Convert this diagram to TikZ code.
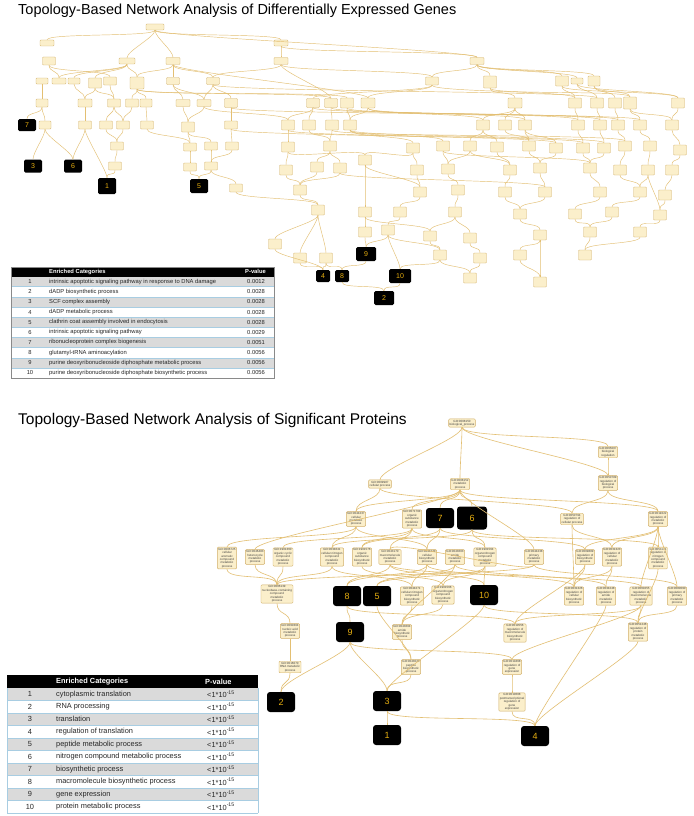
\documentclass[tikz,border=0pt]{standalone}
\usepackage{fontspec}
\setmainfont{Liberation Sans}
\definecolor{edgec}{HTML}{E3BF72}
\definecolor{nfill}{HTML}{FBEFCB}
\definecolor{ndraw}{HTML}{D2B06A}
\definecolor{gold}{HTML}{E6AE10}
\definecolor{rowgray}{HTML}{DADADA}
\definecolor{sepblue}{HTML}{A8CDE2}
\definecolor{tabborder}{HTML}{8A8A8A}
\begin{document}
\begin{tikzpicture}[x=1pt,y=-1pt,
  tn/.style={draw=ndraw,fill=nfill,line width=0.35pt,rounded corners=0.8pt,inner sep=0pt},
  bn/.style={draw=ndraw,fill=nfill,line width=0.45pt,rounded corners=1pt,inner sep=1pt,align=center,
     font=\fontsize{3}{3.4}\selectfont,text=black!75},
  ed/.style={draw=edgec,line width=0.45pt},
  edb/.style={draw=edgec,line width=0.6pt},
  toplab/.style={fill=black,rounded corners=1.5pt,inner sep=0pt,text=gold,font=\fontsize{7}{7}\selectfont},
  botlab/.style={fill=black,rounded corners=3pt,inner sep=0pt,minimum width=28pt,minimum height=20pt,text=gold,font=\fontsize{9}{9}\selectfont},
  ttl/.style={anchor=base west,inner sep=0pt},
  tcell/.style={anchor=west,inner sep=0pt,font=\fontsize{5.8}{6}\selectfont,text=black!85},
  bcell/.style={anchor=west,inner sep=0pt,font=\fontsize{7.4}{8}\selectfont,text=black!85}
]
\fill[white] (0,0) rectangle (693,816);
\useasboundingbox (0,0) rectangle (693,816);

% ---------------- Titles ----------------
\node[ttl,font=\fontsize{14.5}{17}\selectfont] (title1) at (18,14.5) {Topology-Based Network Analysis of Differentially Expressed Genes};
\node[ttl,font=\fontsize{15.5}{18}\selectfont] (title2) at (18,424) {Topology-Based Network Analysis of Significant Proteins};

% ---------------- Top graph edges & nodes ----------------
\foreach \n/\x/\y/\w/\h in {
1/155/27/18/6, 2/47/43/14/6, 3/281/43/14/6, 4/49/61/13/8, 5/127/61/16/6, 6/173/61/14/7, 7/281/61/14/7, 8/477/61/14/7,
9/42/81/12/6, 10/59/81/14/6, 11/74/81/12/6, 12/95/83/13/10, 13/110/81/13/8, 14/137/83/14/12, 15/173/81/13/7, 16/213/81/13/7, 17/432/81/13/8, 18/490/82/13/12, 19/562/81/13/10, 20/577/81/12/6, 21/594/81/12/10,
22/42/103/12/8, 23/85/103/14/8, 24/114/103/13/8, 25/132/103/13/8, 26/146/103/12/8, 27/183/103/14/7, 28/204/103/14/7, 29/231/103/13/9, 30/313/103/13/9, 31/331/103/13/9, 32/347/103/13/10, 33/368/103/14/10, 34/515/103/14/10, 35/575/103/13/10, 36/597/103/13/10, 37/615/103/13/10, 38/630/103/13/12, 39/678/103/13/10,
40/45/125/12/8, 41/85/125/13/8, 42/106/125/13/8, 43/123/125/13/8, 44/147/125/13/8, 45/188/127/13/10, 46/231/125/13/8, 47/288/125/13/10, 48/309/125/13/10, 49/332/125/13/10, 50/350/125/13/10, 51/483/125/13/10, 52/505/125/13/10, 53/525/125/13/10, 54/578/125/13/10, 55/600/125/13/10, 56/618/125/13/10, 57/640/125/13/10, 58/672/125/13/10,
59/117/146/13/8, 60/190/147/13/8, 61/211/146/13/8, 62/232/146/13/8, 63/288/147/13/10, 64/330/146/13/10, 65/413/148/13/10, 66/443/146/13/10, 67/470/146/13/10, 68/497/147/13/10, 69/529/146/13/10, 70/556/148/13/10, 71/583/148/13/10, 72/604/148/13/10, 73/625/146/13/10, 74/650/146/13/10, 75/680/150/13/10,
76/115/166/13/8, 77/190/167/13/8, 78/211/166/13/8, 79/286/170/13/10, 80/317/167/13/10, 81/340/168/13/10, 82/365/160/13/10, 83/417/170/13/10, 84/448/169/13/10, 85/510/170/13/10, 86/540/168/13/10, 87/590/168/13/10, 88/620/170/13/10, 89/648/170/13/10, 90/672/170/13/10,
91/236/188/13/8, 92/300/190/13/10, 93/420/192/13/10, 94/458/190/13/10, 95/505/192/13/10, 96/545/192/13/10, 97/600/192/13/10, 98/640/192/13/10, 99/665/195/13/10,
100/318/210/13/10, 101/365/212/13/10, 102/400/212/13/10, 103/455/212/13/10, 104/520/214/13/10, 105/575/214/13/10, 106/612/212/13/10, 107/660/215/13/10,
108/275/244/13/10, 109/365/232/13/10, 110/388/230/13/10, 111/430/236/13/10, 112/470/238/13/10, 113/540/235/13/10, 114/590/232/13/10, 115/640/232/13/10,
116/300/258/13/10, 117/326/258/13/10, 118/440/255/13/10, 119/480/258/13/10, 120/520/255/13/10, 121/585/255/13/10,
122/470/278/13/10, 123/540/282/13/10}
  \node[tn,minimum width=\w,minimum height=\h] (t\n) at (\x,\y) {};

\foreach \n/\x/\y/\w/\h in {7/27/125/18/12, 3/33/166/18/13, 6/73/166/18/13, 1/107/186/18/16, 5/199/186/18/14,
  9/366/254/20/14, 4/323/276/14/12, 8/342/276/14/12, 10/400/276/22/14, 2/384/298/20/14}
  \node[toplab,minimum width=\w,minimum height=\h] (tL\n) at (\x,\y) {\n};

\foreach \a/\b in {1/2, 1/5, 1/6, 1/3, 1/8, 3/7, 4/10, 4/13, 5/10, 5/12, 5/14, 5/11, 6/15, 6/16, 6/14, 7/16, 3/8, 8/17, 8/18, 8/19, 8/20, 8/21, 7/17,
9/22, 12/23, 13/24, 12/24, 14/25, 14/26, 15/27, 15/28, 16/28, 16/29, 14/31, 14/32, 17/33, 17/30, 7/31, 18/34, 19/35, 20/36, 21/37, 21/38, 19/39, 20/39, 18/38, 17/35, 16/36, 6/33, 11/23,
22/40, 23/41, 24/42, 24/43, 25/43, 26/44, 27/45, 28/45, 29/46, 30/47, 30/48, 31/49, 32/50, 33/50, 33/51, 34/51, 34/52, 34/53, 35/54, 36/55, 37/56, 38/57, 39/58, 38/58, 31/54, 32/55, 29/57, 30/56, 28/47, 33/53,
42/59, 43/59, 44/60, 45/60, 45/61, 46/62, 47/63, 48/64, 49/64, 50/65, 50/66, 51/67, 51/68, 52/69, 53/69, 53/70, 54/71, 55/72, 56/73, 57/74, 58/75, 47/71, 49/73, 50/72, 46/70,
59/76, 60/77, 61/78, 62/78, 63/79, 64/80, 64/81, 65/82, 65/83, 66/84, 67/84, 68/85, 69/86, 70/86, 71/87, 72/87, 73/88, 74/89, 75/90, 63/82, 67/85, 66/87,
78/91, 79/92, 80/92, 81/92, 83/93, 84/94, 85/95, 86/96, 87/97, 88/98, 89/98, 90/99, 82/93, 81/96,
92/100, 82/101, 93/102, 94/103, 95/104, 96/104, 97/105, 98/106, 99/107, 91/100, 89/107,
100/108, 101/109, 102/110, 103/111, 103/112, 104/113, 105/114, 106/114, 107/115, 101/111, 100/116, 100/117,
110/118, 111/118, 112/119, 113/120, 114/121, 115/121, 119/122, 120/123, 118/122, 113/123,
22/L7, 40/L3, 41/L6, 40/L6, 76/L1, 41/L1, 77/L5, 78/L5, 109/L9, 110/L9, 116/L4, 117/L4, 117/L8, L9/L8, 110/L10, 118/L10, L10/L2, L8/L2, 108/L4}
  \draw[ed] (t\a.south) .. controls +(0,7) and +(0,-7) .. (t\b.north);

% ---------------- Top table ----------------
\fill[black] (11,267) rectangle (274,276.5);
\foreach \i in {1,3,5,7,9}
  \fill[rowgray] (11,{276.5+(\i-1)*10.15}) rectangle (274,{276.5+\i*10.15});
\foreach \i in {1,...,9}
  \draw[sepblue,line width=0.4pt] (11,{276.5+\i*10.15}) -- (274,{276.5+\i*10.15});
\draw[tabborder,line width=0.6pt] (11,267) rectangle (274,378);
\node[tcell,text=white,font=\fontsize{5.8}{6}\selectfont\bfseries] (th1) at (49,271.8) {Enriched Categories};
\node[tcell,text=white,font=\fontsize{5.8}{6}\selectfont\bfseries] (th2) at (245,271.8) {P-value};
\foreach \i/\c/\p in {
 1/intrinsic apoptotic signaling pathway in response to DNA damage/0.0012,
 2/dADP biosynthetic process/0.0028,
 3/SCF complex assembly/0.0028,
 4/dADP metabolic process/0.0028,
 5/clathrin coat assembly involved in endocytosis/0.0028,
 6/intrinsic apoptotic signaling pathway/0.0029,
 7/ribonucleoprotein complex biogenesis/0.0051,
 8/glutamyl-tRNA aminoacylation/0.0056,
 9/purine deoxyribonucleoside diphosphate metabolic process/0.0056,
 10/purine deoxyribonucleoside diphosphate biosynthetic process/0.0056}{
  \pgfmathsetmacro\yc{276.5+(\i-0.5)*10.15}
  \node[tcell,anchor=center] (tn\i) at (30,\yc) {\i};
  \node[tcell] (tc\i) at (49,\yc) {\c};
  \node[tcell] (tp\i) at (247,\yc) {\p};
}

% ---------------- Bottom table ----------------
\fill[black] (7,675) rectangle (258,688);
\foreach \i in {1,3,5,7,9}
  \fill[rowgray] (7,{688+(\i-1)*12.5}) rectangle (258,{688+\i*12.5});
\foreach \i in {1,...,10}
  \draw[sepblue,line width=0.6pt] (7,{688+\i*12.5}) -- (258,{688+\i*12.5});
\draw[sepblue,line width=0.6pt] (7,688) -- (7,813) (258,688) -- (258,813);
\node[bcell,text=white,font=\fontsize{7.4}{8}\selectfont\bfseries] (bh1) at (56,681.5) {Enriched Categories};
\node[bcell,text=white,font=\fontsize{7.4}{8}\selectfont\bfseries] (bh2) at (205,681.5) {P-value};
\foreach \i/\c in {1/cytoplasmic translation, 2/RNA processing, 3/translation, 4/regulation of translation,
 5/peptide metabolic process, 6/nitrogen compound metabolic process, 7/biosynthetic process,
 8/macromolecule biosynthetic process, 9/gene expression, 10/protein metabolic process}{
  \pgfmathsetmacro\yc{688+(\i-0.5)*12.5}
  \node[bcell,anchor=center] (bnum\i) at (30,\yc) {\i};
  \node[bcell] (bc\i) at (56,\yc) {\c};
  \node[bcell] (bp\i) at (207,\yc) {{<}1*10\textsuperscript{-15}};
}

% ---------------- Bottom graph ----------------
\node[bn] (bp) at (462,423) {GO:0008150\\biological\_process};
\node[bn] (cp) at (380,484) {GO:0009987\\cellular process};
\node[bn] (mp) at (460,484) {GO:0008152\\metabolic\\process};
\node[bn] (br) at (608,452) {GO:0065007\\biological\\regulation};
\node[bn] (rbp) at (608,483) {GO:0050789\\regulation of\\biological\\process};
\node[bn] (cmp) at (356,519) {GO:0044237\\cellular\\metabolic\\process};
\node[bn] (osm) at (412,519) {GO:0071704\\organic\\substance\\metabolic\\process};
\node[botlab] (L7) at (440,518) {7};
\node[botlab,minimum width=30pt,minimum height=23pt] (L6) at (472,518) {6};
\node[bn] (rcp) at (572,519) {GO:0050794\\regulation of\\cellular process};
\node[bn] (rmp) at (658,519) {GO:0019222\\regulation of\\metabolic\\process};
\node[bn] (cac) at (227,558) {GO:0006725\\cellular\\aromatic\\compound\\metabolic\\process};
\node[bn] (het) at (255,557) {GO:0046483\\heterocycle\\metabolic\\process};
\node[bn] (occ) at (283,557) {GO:1901360\\organic cyclic\\compound\\metabolic\\process};
\node[bn] (cnc) at (332,557) {GO:0034641\\cellular nitrogen\\compound\\metabolic\\process};
\node[bn] (osb) at (362,557) {GO:1901576\\organic\\substance\\biosynthetic\\process};
\node[bn] (mac) at (390,557) {GO:0043170\\macromolecule\\metabolic\\process};
\node[bn] (cbp) at (427,557) {GO:0044249\\cellular\\biosynthetic\\process};
\node[bn] (amp) at (455,557) {GO:0043603\\amide\\metabolic\\process};
\node[bn] (onc) at (485,557) {GO:1901564\\organonitrogen\\compound\\metabolic\\process};
\node[bn] (pri) at (534,557) {GO:0044238\\primary\\metabolic\\process};
\node[bn] (rbs) at (585,557) {GO:0009889\\regulation of\\biosynthetic\\process};
\node[bn] (rcm) at (612,557) {GO:0031323\\regulation of\\cellular\\metabolic\\process};
\node[bn] (rnc) at (658,558) {GO:0051171\\regulation of\\nitrogen\\compound\\metabolic\\process};
\node[bn] (nbc) at (277,594) {GO:0006139\\nucleobase-containing\\compound\\metabolic\\process};
\node[botlab] (L8) at (347,596) {8};
\node[botlab] (L5) at (377,596) {5};
\node[bn] (cnb) at (412,596) {GO:0044271\\cellular nitrogen\\compound\\biosynthetic\\process};
\node[bn] (onb) at (443,595) {GO:1901566\\organonitrogen\\compound\\biosynthetic\\process};
\node[botlab] (L10) at (484,595) {10};
\node[bn] (rcb) at (574,596) {GO:0031326\\regulation of\\cellular\\biosynthetic\\process};
\node[bn] (ram) at (606,596) {GO:0034248\\regulation of\\amide\\metabolic\\process};
\node[bn] (rmm) at (641,596) {GO:0060255\\regulation of\\macromolecule\\metabolic\\process};
\node[bn] (rpm) at (677,596) {GO:0080090\\regulation of\\primary\\metabolic\\process};
\node[bn] (nam) at (290,631) {GO:0090304\\nucleic acid\\metabolic\\process};
\node[botlab] (L9) at (350,632) {9};
\node[bn] (abp) at (402,632) {GO:0043604\\amide\\biosynthetic\\process};
\node[bn] (rmb) at (515,633) {GO:0010556\\regulation of\\macromolecule\\biosynthetic\\process};
\node[bn] (rpr) at (638,632) {GO:0051246\\regulation of\\protein\\metabolic\\process};
\node[bn] (rna) at (290,667) {GO:0016070\\RNA metabolic\\process};
\node[bn] (pep) at (411,667) {GO:0043043\\peptide\\biosynthetic\\process};
\node[bn] (rge) at (512,667) {GO:0010468\\regulation of\\gene\\expression};
\node[botlab] (L2) at (281,702) {2};
\node[botlab] (L3) at (387,701) {3};
\node[bn] (ptr) at (512,702) {GO:0010608\\posttranscriptional\\regulation of\\gene\\expression};
\node[botlab] (L1) at (387,735) {1};
\node[botlab] (L4) at (535,736) {4};

\foreach \a/\b in {bp/cp, bp/mp, bp/br, bp/rbp, br/rbp, cp/cmp, cp/rcp,
  mp/cmp, mp/osm, mp/L7, mp/L6, mp/rmp, mp/pri, mp/het, rbp/rcp, rbp/rmp,
  cmp/cac, cmp/cnc, cmp/cbp, osm/occ, osm/osb, osm/mac, osm/onc,
  L7/osb, L7/cbp, L7/rbs, L6/cnc, L6/onc, L6/rnc, rcp/rcm, rcp/rcb,
  rmp/rbs, rmp/rcm, rmp/rnc, rmp/rmm, rmp/rpm, pri/mac, pri/nbc, pri/rpm,
  cac/nbc, het/nbc, occ/nbc, cnc/nbc, mac/L8, cbp/L8, cnc/cnb, cbp/cnb, osb/onb, onc/onb,
  amp/L5, onc/L5, onc/L10, mac/L10, mac/rmm, amp/ram, cbp/rcb,
  rbs/rcb, rcm/rcb, rbs/rmb, rmm/rmb, rmm/rpr, rcm/ram, rnc/rpr, rpm/rpr,
  nbc/nam, L8/L9, cnb/abp, onb/abp, amp/abp, L8/rmb, L10/rpr,
  nam/rna, L9/L2, L9/L3, L9/rge, abp/pep, L5/pep, rna/L2, L10/L3, rmm/rge,
  rge/ptr, ptr/L4, L3/L4, L3/L1, rpr/L4, ram/L4, pep/L3}
  \draw[edb] (\a.south) .. controls +(0,12) and +(0,-12) .. (\b.north);
\end{tikzpicture}
\end{document}
